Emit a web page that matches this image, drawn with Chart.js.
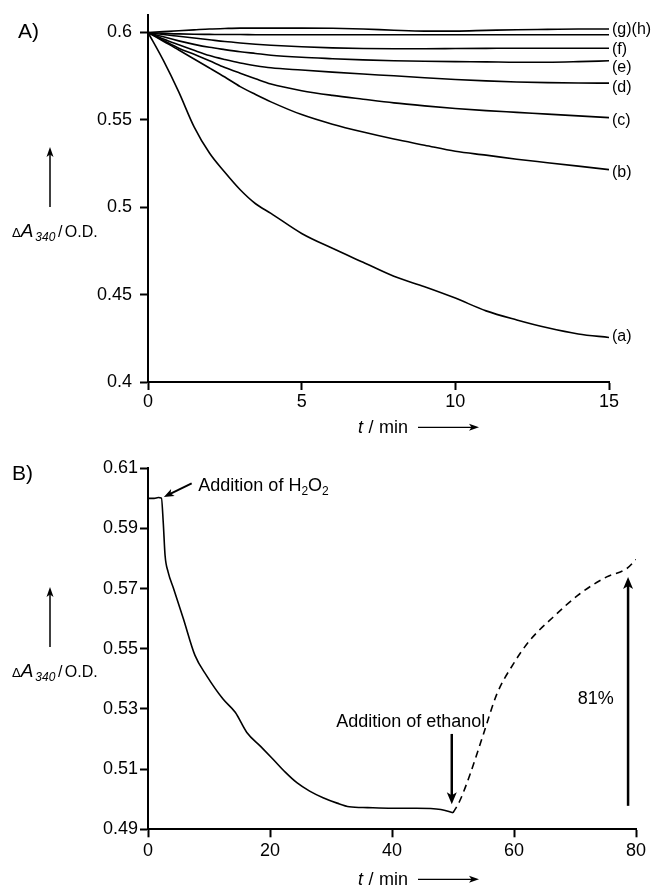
<!DOCTYPE html>
<html>
<head>
<meta charset="utf-8">
<script src="https://cdn.jsdelivr.net/npm/chart.js@4.4.1/dist/chart.umd.min.js"></script>
<style>
  html, body { margin: 0; padding: 0; background: #fff; }
  canvas { position: absolute; left: 0; }
  #chartA { top: 0; }
  #chartB { top: 440px; }
</style>
</head>
<body>
<canvas id="chartA" width="653" height="440"></canvas>
<canvas id="chartB" width="653" height="446"></canvas>
<script>
// Panel A — absorbance decay curves (a)-(h), t in min
const timeA = [0, 0.5, 1, 1.5, 2, 2.5, 3, 3.5, 4, 5, 6, 7, 8, 9, 10, 11, 12, 13, 14, 15];
const curveA = [0.6, 0.584, 0.566, 0.546, 0.531, 0.520, 0.510, 0.502, 0.4965, 0.485, 0.4765, 0.4685, 0.4605, 0.4545, 0.448, 0.4407, 0.4355, 0.431, 0.4275, 0.4255];
const curveB = [0.6, 0.595, 0.590, 0.5848, 0.5797, 0.5745, 0.569, 0.5645, 0.5603, 0.553, 0.5475, 0.543, 0.539, 0.5355, 0.532, 0.5298, 0.5275, 0.5255, 0.5235, 0.5215];
const curveC = [0.6, 0.5955, 0.591, 0.5875, 0.5838, 0.580, 0.5767, 0.5735, 0.5705, 0.5667, 0.564, 0.5618, 0.5597, 0.558, 0.5565, 0.5553, 0.5543, 0.5533, 0.5523, 0.5513];
const curveD = [0.6, 0.5963, 0.593, 0.5898, 0.5868, 0.5845, 0.5825, 0.581, 0.5798, 0.5785, 0.5773, 0.5762, 0.5752, 0.5741, 0.5731, 0.5723, 0.5717, 0.5713, 0.5711, 0.571];
const curveE = [0.6, 0.5975, 0.5952, 0.5932, 0.5915, 0.5902, 0.589, 0.588, 0.587, 0.5858, 0.585, 0.5843, 0.5838, 0.5835, 0.5833, 0.5832, 0.583, 0.583, 0.5833, 0.5838];
const curveF = [0.6, 0.5988, 0.5978, 0.5968, 0.5958, 0.5948, 0.594, 0.5933, 0.5927, 0.5918, 0.5912, 0.5908, 0.5907, 0.5907, 0.5908, 0.5909, 0.591, 0.591, 0.591, 0.591];
const curveG = [0.6, 0.6005, 0.601, 0.6015, 0.602, 0.6023, 0.6025, 0.6025, 0.6025, 0.6025, 0.6024, 0.602, 0.6013, 0.6008, 0.6008, 0.6012, 0.6016, 0.6018, 0.602, 0.602];
const curveH = [0.6, 0.5995, 0.5992, 0.599, 0.5989, 0.5988, 0.5988, 0.5987, 0.5987, 0.5987, 0.5987, 0.5987, 0.5987, 0.5987, 0.5987, 0.5987, 0.5987, 0.5987, 0.5987, 0.5987];
const curveLabelsA = ['(g)(h)', '(f)', '(e)', '(d)', '(c)', '(b)', '(a)'];
const xTicksA = [0, 5, 10, 15];
const yTicksA = [0.4, 0.45, 0.5, 0.55, 0.6];

// Panel B — H2O2 addition (solid) then ethanol recovery (dashed)
const timeB1 = [0, 1, 1.7, 2.2, 2.5, 2.8, 3.3, 4.2, 5.8, 7.7, 9.6, 12.3, 14.3, 16.2, 18.5, 20.5, 22.5, 24.4, 26.5, 28.7, 31, 33, 36, 40, 44, 48, 50];
const valuesB1 = [0.6, 0.6, 0.6003, 0.6001, 0.592, 0.581, 0.5755, 0.57, 0.56, 0.5478, 0.5411, 0.5333, 0.5289, 0.5222, 0.5175, 0.5133, 0.509, 0.5055, 0.5027, 0.5005, 0.4987, 0.4975, 0.4972, 0.497, 0.497, 0.4966, 0.4955];
const timeB2 = [50, 51.1, 52.8, 55, 57.2, 59.9, 62.6, 66.4, 70.8, 75.2, 78.5, 80];
const valuesB2 = [0.4955, 0.4994, 0.5083, 0.5217, 0.535, 0.545, 0.5528, 0.5605, 0.5683, 0.5739, 0.5767, 0.5797];
const xTicksB = [0, 20, 40, 60, 80];
const yTicksB = [0.49, 0.51, 0.53, 0.55, 0.57, 0.59, 0.61];

const FONT = '"Liberation Sans", Arial, sans-serif';
Chart.defaults.font.family = FONT;
Chart.defaults.color = '#000';

function axis(pos, min, max, tickVals, size, pad) {
  return {
    type: 'linear', position: pos, min, max,
    afterBuildTicks: s => { s.ticks = tickVals.map(v => ({ value: v })); },
    afterFit: s => {
      if (pos === 'bottom') { s.height = size; s.paddingLeft = 0; s.paddingRight = 0; }
      else { s.width = size; s.paddingTop = 0; s.paddingBottom = 0; }
    },
    border: { display: true, color: '#000', width: 2 },
    grid: { display: true, drawOnChartArea: false, drawTicks: true, tickLength: 8, tickWidth: 2, tickColor: '#000' },
    ticks: { color: '#000', padding: pad, autoSkip: false, maxRotation: 0, font: { size: 18 },
      callback: v => String(+v.toFixed(2)) },
  };
}

function line(xs, ys, dash) {
  return {
    data: xs.map((x, i) => ({ x, y: ys[i] })),
    borderColor: '#000', borderWidth: 1.6, borderDash: dash || [],
    pointRadius: 0, fill: false, cubicInterpolationMode: 'monotone',
  };
}

function arrow(ctx, x1, y1, x2, y2, len, half, lw) {
  const a = Math.atan2(y2 - y1, x2 - x1), c = Math.cos(a), s = Math.sin(a);
  ctx.lineWidth = lw;
  ctx.beginPath();
  ctx.moveTo(x1, y1);
  ctx.lineTo(x2 - c * len * 0.7, y2 - s * len * 0.7);
  ctx.stroke();
  ctx.beginPath();
  ctx.moveTo(x2, y2);
  ctx.lineTo(x2 - c * len - s * half, y2 - s * len + c * half);
  ctx.lineTo(x2 - c * len * 0.75, y2 - s * len * 0.75);
  ctx.lineTo(x2 - c * len + s * half, y2 - s * len - c * half);
  ctx.closePath();
  ctx.fill();
}

// draw text pieces one after another: [text, font, dy, gap]
function runs(ctx, x, base, parts) {
  ctx.textAlign = 'left';
  ctx.textBaseline = 'alphabetic';
  for (const [t, f, dy, gap] of parts) {
    x += gap || 0;
    ctx.font = f + ' ' + FONT;
    ctx.fillText(t, x, base + (dy || 0));
    x += ctx.measureText(t).width;
  }
  return x;
}

function axisTitles(ctx, xBase, xArrowY) {
  // y title with arrow
  arrow(ctx, 50, 207, 50, 147, 10, 3.5, 1.5);
  runs(ctx, 12, 237.3, [
    ['\u0394', '13px'], ['A', 'italic 19px'], ['340', 'italic 12px', 3.5, 2],
    ['/', '16px', 0, 2.5], ['O.D.', '16px', 0, 2.5],
  ]);
  // x title with arrow
  runs(ctx, 358, xBase, [['t', 'italic 18px'], ['/', '18px', 0, 5.5], ['min', '18px', 0, 5.5]]);
  arrow(ctx, 418, xArrowY, 479, xArrowY, 10, 3.5, 1.3);
}

const decorA = {
  id: 'decorA',
  afterDraw(chart) {
    const { ctx, chartArea, scales: { y } } = chart;
    const labelY = [0.6015, 0.5901, 0.5798, 0.5683, 0.5496, 0.5198, 0.4258];
    ctx.save();
    ctx.fillStyle = '#000';
    ctx.strokeStyle = '#000';
    runs(ctx, 18, 37.5, [['A)', '21px']]);
    ctx.font = '16px ' + FONT;
    ctx.textAlign = 'left';
    ctx.textBaseline = 'middle';
    curveLabelsA.forEach((t, i) => ctx.fillText(t, chartArea.right + 3, y.getPixelForValue(labelY[i])));
    axisTitles(ctx, 433, 427.3);
    ctx.restore();
  }
};

const decorB = {
  id: 'decorB',
  afterDraw(chart) {
    const { ctx, scales: { x, y } } = chart;
    const px = v => x.getPixelForValue(v), py = v => y.getPixelForValue(v);
    ctx.save();
    ctx.fillStyle = '#000';
    ctx.strokeStyle = '#000';
    runs(ctx, 12, 40, [['B)', '21px']]);
    axisTitles(ctx, 445, 439.3);
    // H2O2 note
    arrow(ctx, px(7.16), py(0.605), px(2.6), py(0.6005), 10, 4, 2);
    runs(ctx, px(8.25), py(0.6024), [
      ['Addition of H', '18px'], ['2', '12px', 4], ['O', '18px'], ['2', '12px', 4],
    ]);
    // ethanol note
    ctx.font = '18px ' + FONT;
    ctx.textAlign = 'right';
    ctx.fillText('Addition of ethanol', px(55.3), py(0.5239));
    arrow(ctx, px(49.8), py(0.5217), px(49.8), py(0.4983), 12, 5, 2.5);
    // recovery
    arrow(ctx, px(78.7), py(0.4978), px(78.7), py(0.5739), 12, 5, 2.5);
    ctx.textAlign = 'center';
    ctx.fillText('81%', px(73.4), py(0.5317));
    ctx.restore();
  }
};

new Chart(document.getElementById('chartA'), {
  type: 'line',
  data: { datasets: [curveA, curveB, curveC, curveD, curveE, curveF, curveG, curveH].map(v => line(timeA, v)) },
  options: {
    responsive: false, animation: false,
    layout: { padding: { left: 0, top: 15, right: 44, bottom: 18 } },
    plugins: { legend: { display: false }, tooltip: { enabled: false } },
    scales: {
      x: axis('bottom', 0, 15, xTicksA, 40, 1.2),
      y: axis('left', 0.4, 0.61, yTicksA, 148, 8),
    },
  },
  plugins: [decorA],
});

new Chart(document.getElementById('chartB'), {
  type: 'line',
  data: { datasets: [line(timeB1, valuesB1), line(timeB2, valuesB2, [7, 5])] },
  options: {
    responsive: false, animation: false,
    layout: { padding: { left: 0, top: 28.3, right: 17, bottom: 16.7 } },
    plugins: { legend: { display: false }, tooltip: { enabled: false } },
    scales: {
      x: axis('bottom', 0, 80, xTicksB, 40, 2.9),
      y: axis('left', 0.49, 0.61, yTicksB, 148, 2),
    },
  },
  plugins: [decorB],
});
</script>
</body>
</html>
